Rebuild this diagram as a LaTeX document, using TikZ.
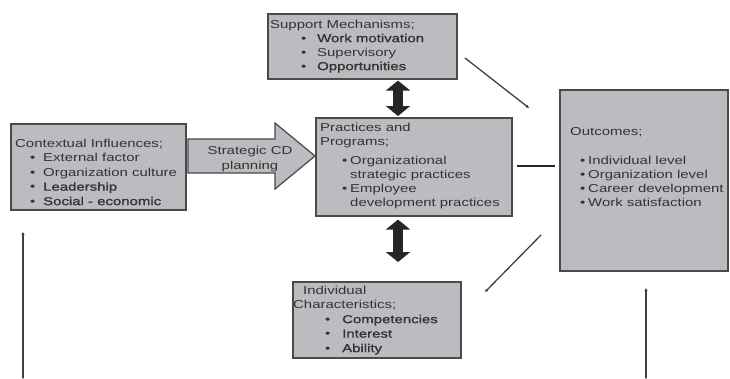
\documentclass[tikz,border=0pt]{standalone}
\usepackage{fontspec}
\setmainfont{Liberation Sans}[FakeStretch=1.3]
\newfontfamily\bfx{Liberation Sans}[FakeStretch=1.3,FakeBold=1.2]
\usetikzlibrary{arrows.meta,calc}
\definecolor{boxfill}{HTML}{BBBCBF}
\definecolor{boxline}{HTML}{4A4A4A}
\definecolor{txt}{HTML}{333333}
\newcommand\bul[3]{\hspace*{#1}\makebox[#2][l]{\textbullet}#3}
\begin{document}
\begin{tikzpicture}[x=1pt,y=-1pt,
  box/.style={draw=boxline,line width=1.6pt,fill=boxfill,inner sep=0pt,anchor=north west},
  lbl/.style={anchor=north west,inner sep=0pt,align=left,text=txt,font=\fontsize{11.5}{14}\selectfont},
  dblarrow/.style={line width=10pt,draw=black!85,{Triangle[length=10pt,width=24pt]}-{Triangle[length=10pt,width=24pt]}},
  link/.style={draw=black!75,line width=1.3pt,line cap=round},
  tip/.style={-{Latex[length=3pt,width=3.5pt]}},
  thickln/.style={draw=black!85,line width=2.6pt}]
\useasboundingbox (0,0) rectangle (730,378);

% boxes
\node[box,minimum width=189pt,minimum height=65pt] (sup) at (267,13) {};
\node[box,minimum width=175pt,minimum height=86pt] (ctx) at (10,123) {};
\node[box,minimum width=196pt,minimum height=98pt] (prac) at (315,117) {};
\node[box,minimum width=168pt,minimum height=181pt] (out) at (559,89) {};
\node[box,minimum width=168pt,minimum height=76pt] (ind) at (292,281) {};

% block arrow
\draw[fill=boxfill,draw=boxline,line width=1.2pt,line join=miter]
  (188,139) -- (275,139) -- (275,123) -- (315,156) -- (275,189) -- (275,173) -- (188,173) -- cycle;
\node[anchor=north,inner sep=0pt,align=center,text=txt,font=\fontsize{11.5}{15}\selectfont] (cd) at (250,145.6) {Strategic CD\\planning};

% texts
\node[lbl] (tsup) at (270,19.6) {Support Mechanisms;\\
  \bul{31pt}{16pt}{{\bfx Work motivation}}\\
  \bul{31pt}{16pt}{Supervisory}\\
  \bul{31pt}{16pt}{{\bfx Opportunities}}};
\node[lbl,font=\fontsize{11.5}{14.5}\selectfont] (tctx) at (15,138.6) {Contextual Influences;\\
  \bul{15pt}{13pt}{External factor}\\
  \bul{15pt}{13pt}{Organization culture}\\
  \bul{15pt}{13pt}{{\bfx Leadership}}\\
  \bul{15pt}{13pt}{{\bfx Social - economic}}};
\node[lbl] (tprac) at (320,122.6) {Practices and\\
  Programs;\\[5pt]
  \bul{22pt}{8pt}{Organizational}\\
  \hspace*{30pt}strategic practices\\
  \bul{22pt}{8pt}{Employee}\\
  \hspace*{30pt}development practices};
\node[lbl] (tout) at (570,127.6) {Outcomes;\\[15pt]
  \bul{10pt}{8pt}{Individual level}\\
  \bul{10pt}{8pt}{Organization level}\\
  \bul{10pt}{8pt}{Career development}\\
  \bul{10pt}{8pt}{Work satisfaction}};
\node[lbl,font=\fontsize{11.5}{14.5}\selectfont] (tind) at (293,285.6) {\hspace*{10pt}Individual\\
  Characteristics;\\
  \bul{32pt}{17pt}{{\bfx Competencies}}\\
  \bul{32pt}{17pt}{{\bfx Interest}}\\
  \bul{32pt}{17pt}{{\bfx Ability}}};

% double arrows
\coordinate (dx) at (398,0);
\draw[dblarrow] ($(sup.south -| dx)+(0,1)$) -- ($(prac.north -| dx)+(0,-1)$);
\draw[dblarrow] ($(prac.south -| dx)+(0,3)$) -- ($(ind.north -| dx)+(0,-19)$);

% thick link practices - outcomes
\draw[thickln,shorten <=4pt,shorten >=4pt] ($(prac.east)+(0,-1)$) -- ($(prac.east -| out.west)+(0,-1)$);

% diagonal links
\coordinate (d1a) at (465,58);
\coordinate (d1b) at (529,108);
\coordinate (d2a) at (541,235);
\coordinate (d2b) at (485,292);
\draw[link,tip] (d1a) -- (d1b);
\draw[link,tip] (d2a) -- (d2b);

% vertical feedback lines
\coordinate (v1a) at (23,378);
\coordinate (v1b) at (23,232);
\coordinate (v2a) at (646,378);
\coordinate (v2b) at (646,288);
\draw[link,tip] (v1a) -- (v1b);
\draw[link,tip] (v2a) -- (v2b);
\end{tikzpicture}
\end{document}
